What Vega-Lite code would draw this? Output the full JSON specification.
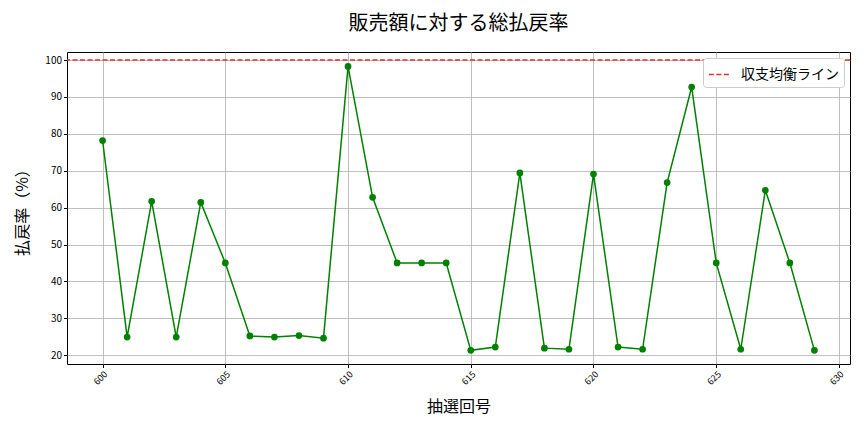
{
  "$schema": "https://vega.github.io/schema/vega-lite/v6.json",
  "width": 783,
  "height": 312,
  "autosize": {"type": "none"},
  "padding": {"left": 67, "top": 52, "right": 14, "bottom": 68},
  "background": "white",
  "title": {"text": "販売額に対する総払戻率", "fontSize": 20, "font": "Noto Sans CJK JP", "fontWeight": "normal", "color": "#000000", "offset": 18, "anchor": "middle"},
  "config": {
    "font": "Noto Sans CJK JP",
    "view": {"stroke": "#000000", "strokeWidth": 1},
    "axis": {"gridColor": "#b0b0b0", "gridWidth": 0.8, "domain": false, "tickColor": "#000000", "labelColor": "#000000", "titleColor": "#000000", "labelFont": "Noto Sans CJK JP", "titleFont": "Noto Sans CJK JP", "titleFontWeight": "normal", "tickSize": 3.5, "labelOverlap": false}
  },
  "datasets": {
    "rate": [
      {"draw": 600, "rate": 78.2}, {"draw": 601, "rate": 24.9}, {"draw": 602, "rate": 61.7},
      {"draw": 603, "rate": 24.9}, {"draw": 604, "rate": 61.4}, {"draw": 605, "rate": 45.0},
      {"draw": 606, "rate": 25.2}, {"draw": 607, "rate": 24.9}, {"draw": 608, "rate": 25.3},
      {"draw": 609, "rate": 24.6}, {"draw": 610, "rate": 98.3}, {"draw": 611, "rate": 62.8},
      {"draw": 612, "rate": 45.0}, {"draw": 613, "rate": 45.0}, {"draw": 614, "rate": 45.0},
      {"draw": 615, "rate": 21.3}, {"draw": 616, "rate": 22.2}, {"draw": 617, "rate": 69.4},
      {"draw": 618, "rate": 21.9}, {"draw": 619, "rate": 21.6}, {"draw": 620, "rate": 69.1},
      {"draw": 621, "rate": 22.2}, {"draw": 622, "rate": 21.6}, {"draw": 623, "rate": 66.8},
      {"draw": 624, "rate": 92.7}, {"draw": 625, "rate": 45.0}, {"draw": 626, "rate": 21.6},
      {"draw": 627, "rate": 64.7}, {"draw": 628, "rate": 45.0}, {"draw": 629, "rate": 21.3}
    ],
    "ref": [{"rate": 100, "label": "収支均衡ライン"}]
  },
  "encoding": {
    "y": {"field": "rate", "type": "quantitative", "scale": {"domain": [17.6, 102.2], "nice": false, "zero": false},
          "axis": {"values": [20, 30, 40, 50, 60, 70, 80, 90, 100], "labelOverlap": false, "labelFontSize": 10, "title": "払戻率（%）", "titleFontSize": 16, "titlePadding": 14}}
  },
  "layer": [
    {
      "data": {"name": "rate"},
      "mark": {"type": "line", "color": "#008000", "strokeWidth": 1.5, "clip": true},
      "encoding": {
        "x": {"field": "draw", "type": "quantitative", "scale": {"domain": [598.55, 630.45], "nice": false, "zero": false},
              "axis": {"values": [600, 605, 610, 615, 620, 625, 630], "labelAngle": -45, "labelFontSize": 9, "labelAlign": "right", "labelBaseline": "top", "labelOverlap": false, "title": "抽選回号", "titleFontSize": 16, "titlePadding": 12}}
      }
    },
    {
      "data": {"name": "rate"},
      "mark": {"type": "point", "filled": true, "color": "#008000", "opacity": 1, "size": 45},
      "encoding": {
        "x": {"field": "draw", "type": "quantitative"}
      }
    },
    {
      "data": {"name": "ref"},
      "mark": {"type": "rule", "strokeDash": [5, 2.5], "strokeWidth": 1.5},
      "encoding": {
        "color": {"field": "label", "type": "nominal", "scale": {"range": ["#e03030"]},
                  "legend": {"title": null, "orient": "top-right", "offset": 6, "symbolType": "stroke", "symbolDash": [5, 2.5], "symbolStrokeWidth": 1.5, "symbolSize": 450, "labelFontSize": 14, "labelOffset": 10, "labelFont": "Noto Sans CJK JP", "labelColor": "#000000", "fillColor": "white", "strokeColor": "#cccccc", "padding": 5, "cornerRadius": 3}}
      }
    }
  ]
}
